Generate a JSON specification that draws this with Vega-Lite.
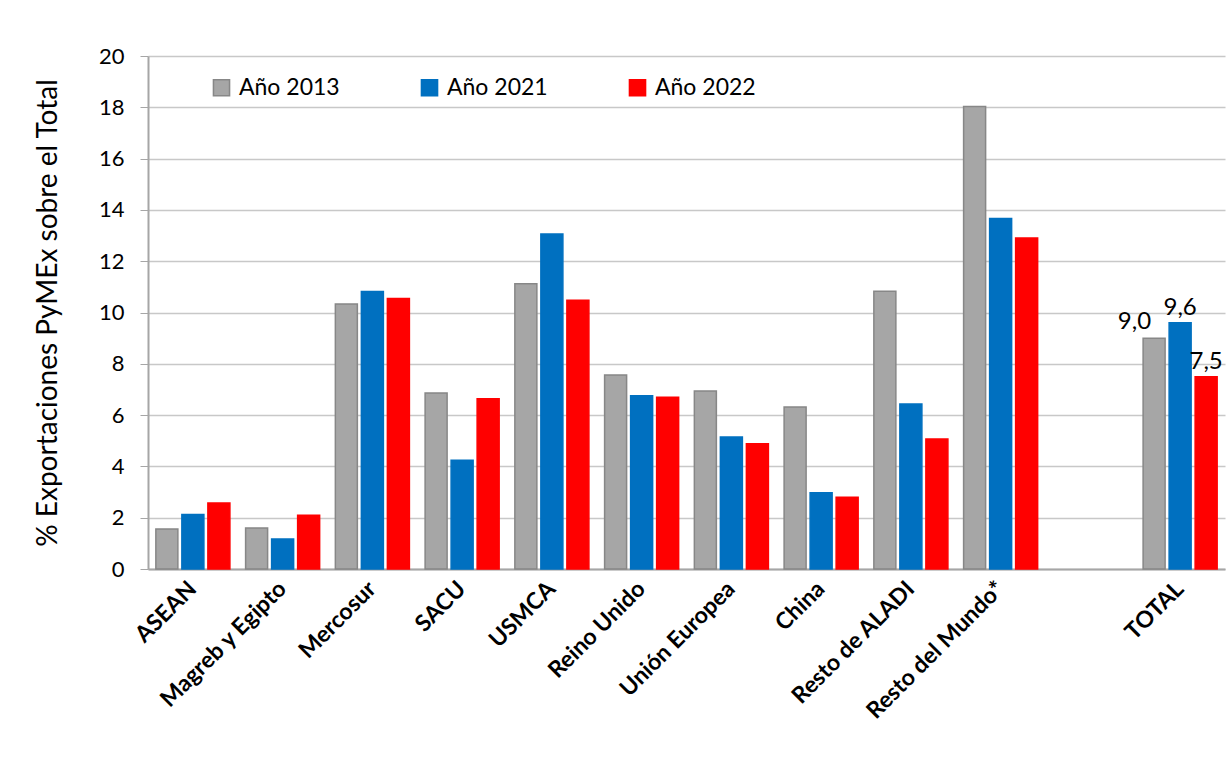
{
  "$schema": "https://vega.github.io/schema/vega-lite/v6.json",
  "autosize": "none",
  "width": 1077,
  "height": 513,
  "padding": {"left": 148, "top": 56, "right": 2, "bottom": 189},
  "background": "white",
  "config": {
    "font": "Lato",
    "view": {"stroke": null},
    "locale": {"number": {"decimal": ",", "thousands": ".", "grouping": [3], "currency": ["", " €"]}}
  },
  "data": {
    "values": [
      {"region": "ASEAN", "year": "Año 2013", "value": 1.56},
      {"region": "ASEAN", "year": "Año 2021", "value": 2.12},
      {"region": "ASEAN", "year": "Año 2022", "value": 2.57},
      {"region": "Magreb y Egipto", "year": "Año 2013", "value": 1.6},
      {"region": "Magreb y Egipto", "year": "Año 2021", "value": 1.17},
      {"region": "Magreb y Egipto", "year": "Año 2022", "value": 2.1},
      {"region": "Mercosur", "year": "Año 2013", "value": 10.33},
      {"region": "Mercosur", "year": "Año 2021", "value": 10.82},
      {"region": "Mercosur", "year": "Año 2022", "value": 10.55},
      {"region": "SACU", "year": "Año 2013", "value": 6.86},
      {"region": "SACU", "year": "Año 2021", "value": 4.24},
      {"region": "SACU", "year": "Año 2022", "value": 6.64},
      {"region": "USMCA", "year": "Año 2013", "value": 11.12},
      {"region": "USMCA", "year": "Año 2021", "value": 13.06},
      {"region": "USMCA", "year": "Año 2022", "value": 10.48},
      {"region": "Reino Unido", "year": "Año 2013", "value": 7.56},
      {"region": "Reino Unido", "year": "Año 2021", "value": 6.75},
      {"region": "Reino Unido", "year": "Año 2022", "value": 6.7},
      {"region": "Unión Europea", "year": "Año 2013", "value": 6.94},
      {"region": "Unión Europea", "year": "Año 2021", "value": 5.15},
      {"region": "Unión Europea", "year": "Año 2022", "value": 4.88},
      {"region": "China", "year": "Año 2013", "value": 6.32},
      {"region": "China", "year": "Año 2021", "value": 2.97},
      {"region": "China", "year": "Año 2022", "value": 2.8},
      {"region": "Resto de ALADI", "year": "Año 2013", "value": 10.83},
      {"region": "Resto de ALADI", "year": "Año 2021", "value": 6.43},
      {"region": "Resto de ALADI", "year": "Año 2022", "value": 5.07},
      {"region": "Resto del Mundo*", "year": "Año 2013", "value": 18.03},
      {"region": "Resto del Mundo*", "year": "Año 2021", "value": 13.66},
      {"region": "Resto del Mundo*", "year": "Año 2022", "value": 12.9},
      {"region": "TOTAL", "year": "Año 2013", "value": 9.0},
      {"region": "TOTAL", "year": "Año 2021", "value": 9.6},
      {"region": "TOTAL", "year": "Año 2022", "value": 7.5}
    ]
  },
  "encoding": {
    "x": {
      "field": "region",
      "type": "nominal",
      "sort": null,
      "scale": {
        "domain": ["ASEAN", "Magreb y Egipto", "Mercosur", "SACU", "USMCA", "Reino Unido", "Unión Europea", "China", "Resto de ALADI", "Resto del Mundo*", " ", "TOTAL"],
        "paddingInner": 0.175,
        "paddingOuter": 0.0875
      },
      "axis": {
        "title": null,
        "labelAngle": -45,
        "labelAlign": "right",
        "labelBaseline": "middle",
        "labelFont": "Lato",
        "labelFontWeight": "bold",
        "labelFontSize": 23,
        "labelColor": "#000000",
        "labelPadding": 16,
        "ticks": false,
        "domainColor": "#a6a6a6",
        "domainWidth": 2,
        "labelLimit": 300
      }
    },
    "xOffset": {"field": "year", "type": "nominal", "scale": {"domain": ["Año 2013", "Año 2021", "Año 2022"], "paddingInner": 0.154, "paddingOuter": 0}},
    "y": {
      "field": "value",
      "type": "quantitative",
      "scale": {"domain": [0, 20], "nice": false},
      "axis": {
        "title": "% Exportaciones PyMEx sobre el Total",
        "titleFont": "Lato",
        "titleFontSize": 28,
        "titleFontWeight": "normal",
        "titleColor": "#000000",
        "titlePadding": 36,
        "values": [0, 2, 4, 6, 8, 10, 12, 14, 16, 18, 20],
        "format": "d",
        "labelFont": "Lato",
        "labelFontSize": 22,
        "labelColor": "#000000",
        "labelPadding": 16,
        "tickSize": 8,
        "tickColor": "#a6a6a6",
        "domainColor": "#a6a6a6",
        "domainWidth": 2,
        "gridColor": "#c8c8c8",
        "gridWidth": 1.5
      }
    }
  },
  "layer": [
    {
      "mark": {"type": "bar", "strokeWidth": 1.5},
      "encoding": {
        "color": {
          "field": "year",
          "type": "nominal",
          "scale": {"domain": ["Año 2013", "Año 2021", "Año 2022"], "range": ["#a6a6a6", "#0070c0", "#ff0000"]},
          "legend": {
            "title": null,
            "orient": "none",
            "legendX": 62,
            "legendY": 20,
            "direction": "horizontal",
            "columns": 3,
            "columnPadding": 78,
            "padding": 0,
            "symbolType": "square",
            "symbolSize": 260,
            "symbolStrokeWidth": 1.5,
            "labelFont": "Lato",
            "labelFontSize": 23,
            "labelColor": "#000000",
            "labelOffset": 6
          }
        },
        "stroke": {
          "field": "year",
          "type": "nominal",
          "scale": {"domain": ["Año 2013", "Año 2021", "Año 2022"], "range": ["#878787", "#0070c0", "#ff0000"]},
          "legend": {
            "title": null,
            "orient": "none",
            "legendX": 62,
            "legendY": 20,
            "direction": "horizontal",
            "columns": 3,
            "columnPadding": 78,
            "padding": 0,
            "symbolType": "square",
            "symbolSize": 260,
            "symbolStrokeWidth": 1.5,
            "labelFont": "Lato",
            "labelFontSize": 23,
            "labelColor": "#000000",
            "labelOffset": 6
          }
        }
      }
    },
    {
      "transform": [{"filter": "datum.region === 'TOTAL' && datum.year === 'Año 2013'"}],
      "mark": {"type": "text", "baseline": "bottom", "align": "right", "dx": -3, "dy": -4, "font": "Lato", "fontSize": 24, "color": "#000000"},
      "encoding": {
        "text": {"field": "value", "type": "quantitative", "format": ".1f"}
      }
    },
    {
      "transform": [{"filter": "datum.region === 'TOTAL' && datum.year !== 'Año 2013'"}],
      "mark": {"type": "text", "baseline": "bottom", "dy": -3, "font": "Lato", "fontSize": 24, "color": "#000000"},
      "encoding": {
        "text": {"field": "value", "type": "quantitative", "format": ".1f"}
      }
    }
  ]
}
